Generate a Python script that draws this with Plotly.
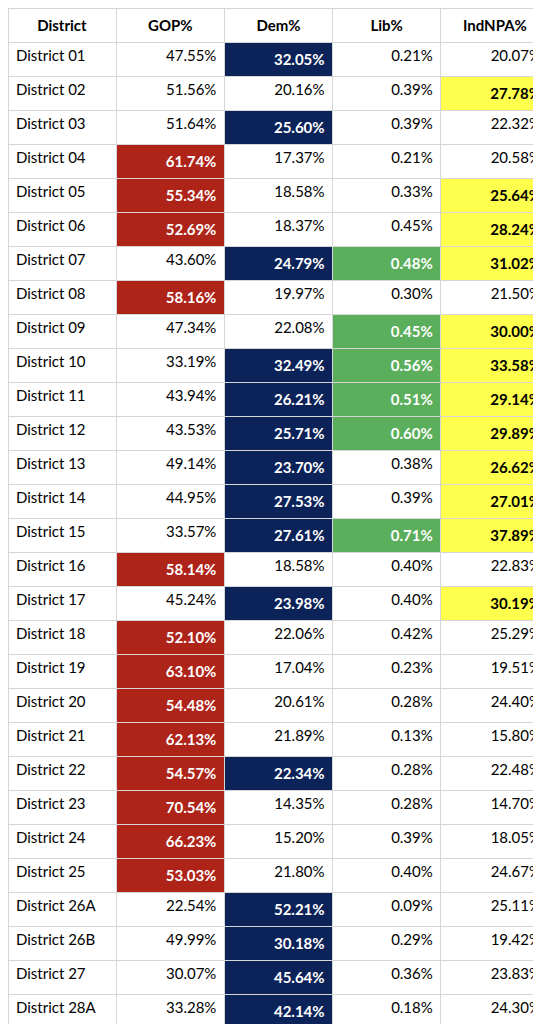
import plotly.graph_objects as go

districts = ["01", "02", "03", "04", "05", "06", "07", "08", "09", "10", "11", "12",
             "13", "14", "15", "16", "17", "18", "19", "20", "21", "22", "23", "24",
             "25", "26A", "26B", "27", "28A", "28B", "29", "30", "31", "32", "33", "34", "35"]
gop = [47.55, 51.56, 51.64, 61.74, 55.34, 52.69, 43.60, 58.16, 47.34, 33.19, 43.94, 43.53,
       49.14, 44.95, 33.57, 58.14, 45.24, 52.10, 63.10, 54.48, 62.13, 54.57, 70.54, 66.23,
       53.03, 22.54, 49.99, 30.07, 33.28, 68.13, 63.39, 62.91, 54.83, 38.54, 58.45, 53.59, 50.82]
dem = [32.05, 20.16, 25.60, 17.37, 18.58, 18.37, 24.79, 19.97, 22.08, 32.49, 26.21, 25.71,
       23.70, 27.53, 27.61, 18.58, 23.98, 22.06, 17.04, 20.61, 21.89, 22.34, 14.35, 15.20,
       21.80, 52.21, 30.18, 45.64, 42.14, 10.36, 12.49, 12.84, 16.76, 28.82, 16.85, 20.82, 16.59]
lib = [0.21, 0.39, 0.39, 0.21, 0.33, 0.45, 0.48, 0.30, 0.45, 0.56, 0.51, 0.60,
       0.38, 0.39, 0.71, 0.40, 0.40, 0.42, 0.23, 0.28, 0.13, 0.28, 0.28, 0.39,
       0.40, 0.09, 0.29, 0.36, 0.18, 0.65, 0.69, 0.52, 0.73, 0.80, 0.58, 0.73, 0.81]
ind = [20.07, 27.78, 22.32, 20.58, 25.64, 28.24, 31.02, 21.50, 30.00, 33.58, 29.14, 29.89,
       26.62, 27.01, 37.89, 22.83, 30.19, 25.29, 19.51, 24.40, 15.80, 22.48, 14.70, 18.05,
       24.67, 25.11, 19.42, 23.83, 24.30, 20.54, 23.28, 23.53, 27.46, 31.56, 23.95, 24.61, 31.48]
statewide = [51.74, 22.19, 0.45, 25.43]

# highlighted districts per column
gop_hi = {"04", "05", "06", "08", "16", "18", "19", "20", "21", "22", "23", "24", "25",
          "28B", "29", "30", "31", "33", "34"}
dem_hi = {"01", "03", "07", "10", "11", "12", "13", "14", "15", "17", "22", "26A", "26B",
          "27", "28A", "32"}
lib_hi = {"07", "09", "10", "11", "12", "15", "28B", "29", "30", "31", "32", "33", "34", "35"}
ind_hi = {"02", "05", "06", "07", "09", "10", "11", "12", "13", "14", "15", "17", "31", "32", "35"}

headers = ["District", "GOP%", "Dem%", "Lib%", "IndNPA%"]
RED, NAVY, GREEN, YELLOW = "#AE2419", "#0C2359", "#5AAE5C", "#FFFF4D"


def column(vals, hi, color, txt):
    text, fill, font = [], [], []
    for d, v in zip(districts, vals):
        s = f"{v:.2f}%"
        if d in hi:
            text.append(f"<b>{s}</b>")
            fill.append(color)
            font.append(txt)
        else:
            text.append(s)
            fill.append("white")
            font.append("black")
    return text, fill, font


cols = [(gop, gop_hi, RED, "white"), (dem, dem_hi, NAVY, "white"),
        (lib, lib_hi, GREEN, "white"), (ind, ind_hi, YELLOW, "black")]

values = [[f"District {d}" for d in districts] + ["<b><i>Statewide</i></b>"]]
fills = [["white"] * (len(districts) + 1)]
fonts = [["black"] * (len(districts) + 1)]
for (vals, hi, c, t), sw in zip(cols, statewide):
    tx, fl, fn = column(vals, hi, c, t)
    values.append(tx + [f"<b><i>{sw:.2f}%</i></b>"])
    fills.append(fl + ["white"])
    fonts.append(fn + ["black"])

fig = go.Figure(go.Table(
    columnwidth=[1, 1, 1, 1, 1],
    header=dict(values=[f"<b>{h}</b>" for h in headers], fill_color="white",
                line_color="#D6D6D6", align="center", height=26.9,
                font=dict(family="Lato", size=15, color="black")),
    cells=dict(values=values, fill_color=fills, line_color="#D6D6D6",
               align=["left", "right", "right", "right", "right"], height=26.9,
               font=dict(family="Lato", size=15, color=fonts)),
    domain=dict(x=[0, 1], y=[0, 1]),
))
fig.update_layout(width=541, height=1024, margin=dict(l=0, r=0, t=0, b=0),
                  paper_bgcolor="white")
fig.write_html("out.html")
